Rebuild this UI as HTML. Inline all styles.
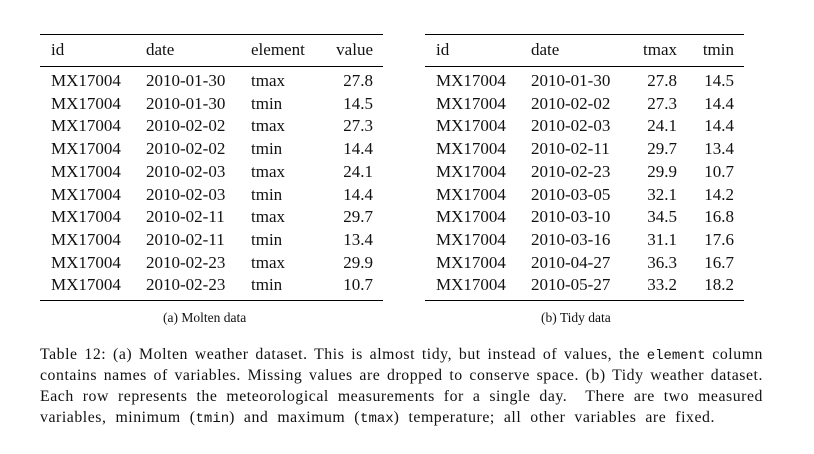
<!DOCTYPE html>
<html><head><meta charset="utf-8"><style>
body{margin:0;width:814px;height:454px;background:#fff;position:relative;overflow:hidden;font-family:"Liberation Serif",serif;color:#111}
.t{position:absolute;font-size:17px;line-height:20px;white-space:nowrap}
.r{text-align:right}
.rule{position:absolute;background:#000}
.cap{position:absolute;font-size:13.5px;white-space:nowrap}
.p{position:absolute;left:40px;font-size:15.8px;line-height:21px;width:723px;white-space:nowrap;text-align:justify;text-align-last:justify;letter-spacing:0.55px}
code{font-family:"Liberation Mono",monospace;font-size:14px;letter-spacing:0}
</style></head><body>
<div id="a"></div>
<div id="b"></div>
<div class="cap" style="left:163px;top:310px">(a) Molten data</div>
<div class="cap" style="left:541px;top:310px">(b) Tidy data</div>
<div>
<div class="p" style="top:344px">Table 12: (a) Molten weather dataset. This is almost tidy, but instead of values, the <code>element</code> column</div>
<div class="p" style="top:365px">contains names of variables. Missing values are dropped to conserve space. (b) Tidy weather dataset.</div>
<div class="p" style="top:386px">Each row represents the meteorological measurements for a single day. &nbsp;There are two measured</div>
<div class="p" style="top:407px;width:675px">variables, minimum (<code>tmin</code>) and maximum (<code>tmax</code>) temperature; all other variables are fixed.</div>
</div>
<script>
const molten=[["MX17004","2010-01-30","tmax","27.8"],["MX17004","2010-01-30","tmin","14.5"],["MX17004","2010-02-02","tmax","27.3"],["MX17004","2010-02-02","tmin","14.4"],["MX17004","2010-02-03","tmax","24.1"],["MX17004","2010-02-03","tmin","14.4"],["MX17004","2010-02-11","tmax","29.7"],["MX17004","2010-02-11","tmin","13.4"],["MX17004","2010-02-23","tmax","29.9"],["MX17004","2010-02-23","tmin","10.7"]];
const tidy=[["MX17004","2010-01-30","27.8","14.5"],["MX17004","2010-02-02","27.3","14.4"],["MX17004","2010-02-03","24.1","14.4"],["MX17004","2010-02-11","29.7","13.4"],["MX17004","2010-02-23","29.9","10.7"],["MX17004","2010-03-05","32.1","14.2"],["MX17004","2010-03-10","34.5","16.8"],["MX17004","2010-03-16","31.1","17.6"],["MX17004","2010-04-27","36.3","16.7"],["MX17004","2010-05-27","33.2","18.2"]];
const headA=["id","date","element","value"], headB=["id","date","tmax","tmin"];
function build(host,head,rows,x0,x1,cols){
  const mk=(cls,css,txt,name)=>{const d=document.createElement('div');d.className=cls;d.style.cssText=css;if(txt!=null)d.textContent=txt;
    
    
    host.appendChild(d);return d;};
  mk('rule',`left:${x0}px;width:${x1-x0}px;top:34px;height:1.3px`,null,'top-rule');
  mk('rule',`left:${x0}px;width:${x1-x0}px;top:65.5px;height:0.9px`,null,'mid-rule');
  mk('rule',`left:${x0}px;width:${x1-x0}px;top:299.5px;height:1.3px`,null,'bottom-rule');
  const pos=(c,i,y,t,name)=>{ if(c.r!=null) mk('t r',`left:${c.r-80}px;width:80px;top:${y}px`,t,name); else mk('t',`left:${c.l}px;top:${y}px`,t,name);};
  head.forEach((h,i)=>pos(cols[i],i,40,h,'header-'+h));
  rows.forEach((r,j)=>r.forEach((v,i)=>pos(cols[i],i,71+j*22.7,v,'cell-'+head[i])));
}
build(document.getElementById('a'),headA,molten,40,383,[{l:51},{l:146},{l:251},{r:373}]);
build(document.getElementById('b'),headB,tidy,425,744,[{l:436},{l:531},{r:677},{r:734}]);
</script>
</body></html>
